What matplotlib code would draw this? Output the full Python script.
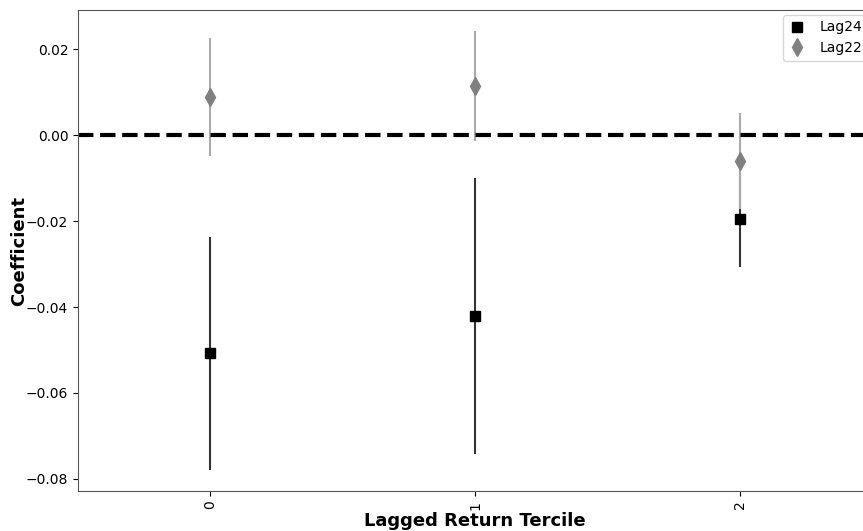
import numpy as np
import matplotlib
matplotlib.use("Agg")
import matplotlib.pyplot as plt

# coefficient estimates by lagged return tercile
terciles = ["0", "1", "2"]
lag24_coef = [-0.0508, -0.0420, -0.0195]
lag24_err = [0.0271, 0.0321, 0.0112]
lag22_coef = [0.0089, 0.0114, -0.0060]
lag22_err = [0.0137, 0.0128, 0.0111]

fig = plt.figure(figsize=(8.63, 5.31), dpi=100)
ax = fig.add_axes([78 / 863, 40 / 531, 794 / 863, 481 / 531])

x = np.arange(len(terciles))
eb24 = ax.errorbar(x, lag24_coef, yerr=lag24_err, fmt="s", color="black",
                   ecolor="#333333", elinewidth=1.5, markersize=7)
eb22 = ax.errorbar(x, lag22_coef, yerr=lag22_err, fmt="d", color="gray",
                   ecolor="#aaaaaa", elinewidth=1.5, markersize=9)
ax.axhline(0, color="black", linestyle="--", linewidth=3)

ax.set_xlim(-0.5, 2.5)
ax.set_ylim(-0.0828, 0.0291)
ax.set_xticks(x)
ax.set_xticklabels(terciles, rotation=90)
ax.tick_params(labelsize=10)
ax.set_xlabel("Lagged Return Tercile", fontsize=13, fontweight="bold", labelpad=2)
ax.set_ylabel("Coefficient", fontsize=13, fontweight="bold")
ax.yaxis.set_label_coords(-0.063, 0.5)
for s in ax.spines.values():
    s.set_color("#555555")

ax.legend([eb24[0], eb22[0]], ["Lag24", "Lag22"], loc="upper left",
          fontsize=10, bbox_to_anchor=(0.888, 0.99), borderaxespad=0,
          handlelength=1.2, handletextpad=1.0)

fig.savefig("out.png", dpi=100)
